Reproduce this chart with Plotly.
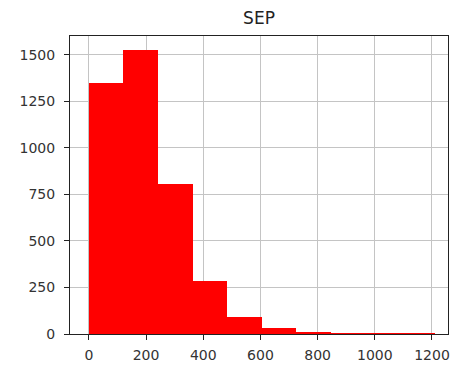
import plotly.graph_objects as go

title = "SEP"
bin_edges = [0, 121, 242, 363, 484, 605, 726, 847, 968, 1089, 1210]
counts = [1348, 1527, 806, 284, 92, 34, 9, 3, 1, 1]
x_ticks = [0, 200, 400, 600, 800, 1000, 1200]
y_ticks = [0, 250, 500, 750, 1000, 1250, 1500]

lefts = bin_edges[:-1]
widths = [b - a for a, b in zip(bin_edges[:-1], bin_edges[1:])]

fig = go.Figure(go.Bar(
    x=lefts, y=counts, width=widths, offset=0,
    marker=dict(color="#ff0000", line=dict(width=0)),
))

axis_common = dict(
    showline=True, linecolor="#222222", linewidth=1, mirror=True,
    ticks="outside", ticklen=5, tickcolor="#222222", tickwidth=1,
    showgrid=True, gridcolor="#c4c4c4", gridwidth=1.3, zeroline=False,
    automargin=False,
    tickfont=dict(family="DejaVu Sans", size=14, color="#333333"),
)

fig.update_layout(
    width=459, height=367,
    margin=dict(l=70, r=11, t=36, b=33),
    paper_bgcolor="white", plot_bgcolor="white",
    showlegend=False, bargap=0,
    title=dict(text=title, x=(70 + 448) / 2 / 459, xanchor="center",
               y=1 - 18 / 367, yanchor="middle",
               font=dict(family="DejaVu Sans", size=17, color="#222222")),
    xaxis=dict(range=[-66, 1256], tickvals=x_ticks, ticklabelstandoff=3, **axis_common),
    yaxis=dict(range=[0, 1602], tickvals=y_ticks, ticklabelstandoff=6, **axis_common),
)

fig.write_html("out.html")
